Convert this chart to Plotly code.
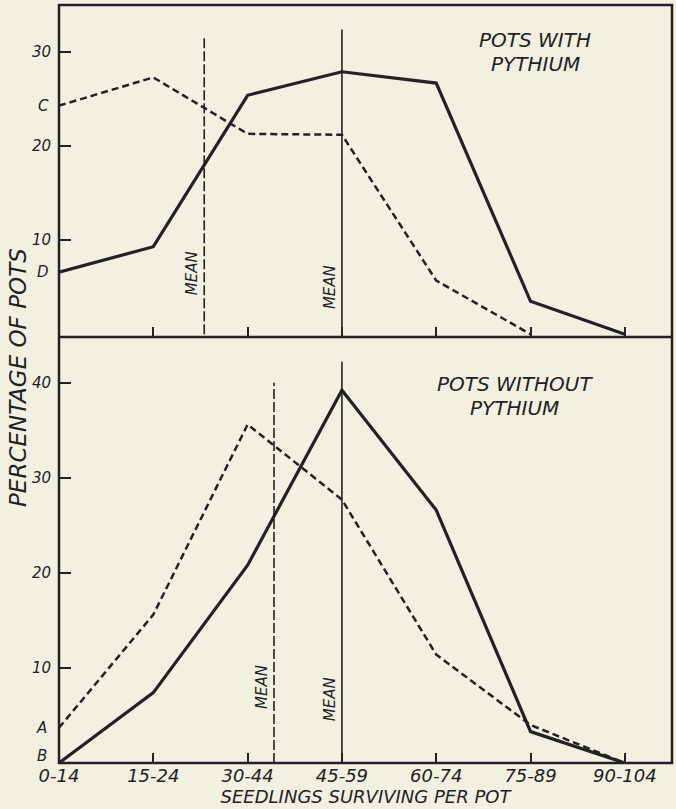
import plotly.graph_objects as go

# ---- data ----
categories = ["0-14", "15-24", "30-44", "45-59", "60-74", "75-89", "90-104"]
xpos = list(range(len(categories)))

top_dashed = [24.3, 27.3, 21.3, 21.2, 5.7, 0.0]
top_solid = [6.6, 9.3, 25.4, 27.9, 26.7, 3.5, 0.0]
bot_dashed = [3.7, 15.6, 35.6, 27.7, 11.4, 4.0, 0.0]
bot_solid = [0.0, 7.4, 20.8, 39.2, 26.6, 3.3, 0.0]

top_mean_dashed = 1.54
top_mean_solid = 3.0
bot_mean_dashed = 2.28
bot_mean_solid = 3.0
top_mean_tops = [31.7, 32.4]
bot_mean_tops = [40.0, 42.2]

top_yticks = [10, 20, 30]
bot_yticks = [10, 20, 30, 40]

top_letters = {"C": top_dashed[0], "D": top_solid[0]}
bot_letters = {"A": bot_dashed[0], "B": bot_solid[0]}

top_title = ["POTS WITH", "PYTHIUM"]
bot_title = ["POTS WITHOUT", "PYTHIUM"]

ink = "#222222"
bg = "#f2f1e1"
FONT = "DejaVu Sans"

fig = go.Figure()

# top panel (xaxis2 / yaxis2)
fig.add_trace(go.Scatter(x=xpos[:len(top_dashed)], y=top_dashed, mode="lines",
                         line=dict(color=ink, width=2.5, dash="7px,4px"),
                         xaxis="x2", yaxis="y2", showlegend=False))
fig.add_trace(go.Scatter(x=xpos, y=top_solid, mode="lines",
                         line=dict(color=ink, width=3.2),
                         xaxis="x2", yaxis="y2", showlegend=False))
fig.add_trace(go.Scatter(x=[top_mean_dashed, top_mean_dashed], y=[0, top_mean_tops[0]],
                         mode="lines", line=dict(color=ink, width=1.6, dash="10px,3px"),
                         xaxis="x2", yaxis="y2", showlegend=False))
fig.add_trace(go.Scatter(x=[top_mean_solid, top_mean_solid], y=[0, top_mean_tops[1]],
                         mode="lines", line=dict(color=ink, width=1.6),
                         xaxis="x2", yaxis="y2", showlegend=False))

# bottom panel (xaxis / yaxis)
fig.add_trace(go.Scatter(x=xpos, y=bot_dashed, mode="lines",
                         line=dict(color=ink, width=2.5, dash="7px,4px"),
                         showlegend=False))
fig.add_trace(go.Scatter(x=xpos, y=bot_solid, mode="lines",
                         line=dict(color=ink, width=3.2), showlegend=False))
fig.add_trace(go.Scatter(x=[bot_mean_dashed, bot_mean_dashed], y=[0, bot_mean_tops[0]],
                         mode="lines", line=dict(color=ink, width=1.6, dash="10px,3px"),
                         showlegend=False))
fig.add_trace(go.Scatter(x=[bot_mean_solid, bot_mean_solid], y=[0, bot_mean_tops[1]],
                         mode="lines", line=dict(color=ink, width=1.6), showlegend=False))

split = 0.562
tickfont = dict(family=FONT, size=15, color=ink, style="italic")

fig.update_layout(
    width=676, height=809,
    margin=dict(l=59, r=4, t=5, b=46),
    paper_bgcolor=bg, plot_bgcolor=bg,
    font=dict(family=FONT, color=ink, style="italic"),
    xaxis=dict(domain=[0, 1], range=[0, 6.5], tickvals=xpos, ticktext=categories,
               ticks="inside", ticklen=10, tickwidth=1.5, tickcolor=ink,
               tickfont=dict(family=FONT, size=18, color=ink, style="italic"),
               showgrid=False, zeroline=False, showline=False, anchor="y",
               title=dict(text="SEEDLINGS SURVIVING PER POT",
                          font=dict(family=FONT, size=18, color=ink, style="italic"),
                          standoff=3)),
    yaxis=dict(domain=[0, split], range=[0, 44.8], tickvals=bot_yticks,
               ticks="inside", ticklen=12, tickwidth=2, tickcolor=ink,
               tickfont=tickfont, showgrid=False, zeroline=False, showline=False,
               anchor="x", ticklabelstandoff=7),
    xaxis2=dict(domain=[0, 1], range=[0, 6.5], tickvals=xpos[1:],
                ticks="inside", ticklen=10, tickwidth=1.5, tickcolor=ink,
                showticklabels=False, showgrid=False, zeroline=False,
                showline=False, anchor="y2"),
    yaxis2=dict(domain=[split, 1], range=[-0.3, 35.0], tickvals=top_yticks,
                ticks="inside", ticklen=12, tickwidth=2, tickcolor=ink,
                tickfont=tickfont, showgrid=False, zeroline=False, showline=False,
                anchor="x2", ticklabelstandoff=7),
)

# frame and divider
fig.add_shape(type="rect", xref="paper", yref="paper", x0=0, x1=1, y0=0, y1=1,
              line=dict(color=ink, width=2.5))
fig.add_shape(type="line", xref="paper", yref="paper", x0=0, x1=1, y0=split, y1=split,
              line=dict(color=ink, width=2.5))

ann = []
# letter labels
for k, v in top_letters.items():
    ann.append(dict(x=0, xref="paper", y=v, yref="y2", text=k, showarrow=False,
                    xanchor="right", xshift=-8, font=tickfont))
for k, v in bot_letters.items():
    ann.append(dict(x=0, xref="paper", y=v, yref="y", text=k, showarrow=False,
                    xanchor="right", xshift=-10, yshift=7 if k == "B" else 0,
                    font=tickfont))
# MEAN labels
meanfont = dict(family=FONT, size=15, color=ink, style="italic")
ann.append(dict(x=top_mean_dashed, xref="x2", y=6.5, yref="y2", text="MEAN", textangle=-90,
                showarrow=False, xanchor="right", xshift=-1, font=meanfont))
ann.append(dict(x=top_mean_solid, xref="x2", y=5.0, yref="y2", text="MEAN", textangle=-90,
                showarrow=False, xanchor="right", xshift=-1, font=meanfont))
ann.append(dict(x=bot_mean_dashed, xref="x", y=8.0, yref="y", text="MEAN", textangle=-90,
                showarrow=False, xanchor="right", xshift=-1, font=meanfont))
ann.append(dict(x=bot_mean_solid, xref="x", y=6.7, yref="y", text="MEAN", textangle=-90,
                showarrow=False, xanchor="right", xshift=-1, font=meanfont))
# panel titles (one annotation per line)
titlefont = dict(family=FONT, size=20, color=ink, style="italic")
ann.append(dict(x=5.05, xref="x2", y=31.3, yref="y2", text=top_title[0],
                showarrow=False, font=titlefont))
ann.append(dict(x=5.05, xref="x2", y=28.7, yref="y2", text=top_title[1],
                showarrow=False, font=titlefont))
ann.append(dict(x=4.83, xref="x", y=39.9, yref="y", text=bot_title[0],
                showarrow=False, font=titlefont))
ann.append(dict(x=4.83, xref="x", y=37.35, yref="y", text=bot_title[1],
                showarrow=False, font=titlefont))
# y title
ann.append(dict(x=0, xref="paper", xanchor="center", xshift=-41,
                y=(809 - 46 - 378) / 758.0, yref="paper", text="PERCENTAGE OF POTS",
                textangle=-90, showarrow=False,
                font=dict(family=FONT, size=23, color=ink, style="italic")))
fig.update_layout(annotations=ann)

fig.write_html("out.html",
               config={"displayModeBar": False},
               post_script="document.body.style.margin='0';"
                           "document.body.style.background='%s';" % bg)
